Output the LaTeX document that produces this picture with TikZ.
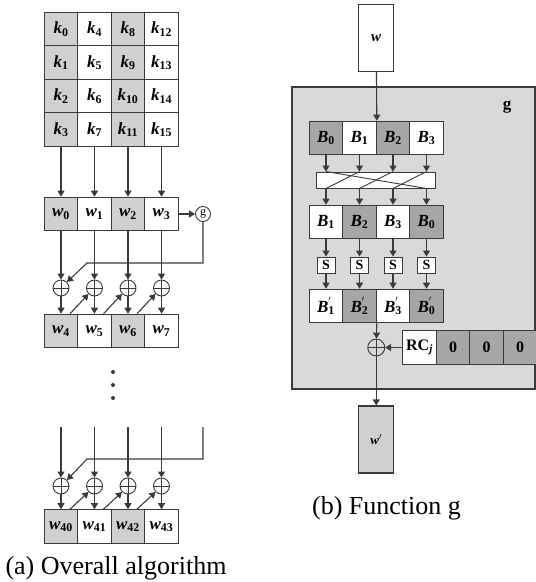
\documentclass[tikz,border=0pt]{standalone}
\usepackage{fontspec}
\setmainfont{Liberation Serif}
\usetikzlibrary{arrows.meta,calc}

\definecolor{lightcell}{HTML}{D0D0D0}
\definecolor{darkcell}{HTML}{A6A6A6}
\definecolor{boxgray}{HTML}{D9D9D9}
\definecolor{linegray}{HTML}{3A3A3A}

\newcommand{\cellv}[2]{{\bfseries\itshape #1}\textsubscript{\bfseries #2}}
\newcommand{\cellpr}[2]{{\bfseries\itshape #1}\rlap{\textsuperscript{\bfseries$'$}}\textsubscript{\bfseries #2}}

\tikzset{
  cell/.style={draw=linegray,line width=1.1pt,minimum width=33.5pt,minimum height=33.5pt,
    inner sep=0pt,fill=white,font=\fontsize{17}{20}\selectfont},
  xorop/.style={circle,draw=linegray,line width=0.9pt,minimum size=16pt,inner sep=0pt,
    path picture={\draw[linegray,line width=0.9pt]
      (path picture bounding box.north) -- (path picture bounding box.south)
      (path picture bounding box.west) -- (path picture bounding box.east);}},
  arr/.style={draw=linegray,line width=1.1pt,-{Triangle[length=6pt,width=7pt]}},
  sbox/.style={draw=linegray,line width=1pt,fill=white,minimum width=18pt,minimum height=16pt,
    inner sep=0pt,font=\fontsize{14}{16}\selectfont\bfseries},
  tallbox/.style={draw=linegray,line width=1.1pt,minimum width=35pt,minimum height=67pt,inner sep=0pt},
  caption/.style={font=\fontsize{26}{30}\selectfont}
}

\begin{document}
\begin{tikzpicture}[x=1pt,y=-1pt]
\useasboundingbox (0,0) rectangle (536,582);

% (a) key matrix
\node[cell,fill=lightcell] (k0) at (61,29) {\cellv{k}{0}};
\node[cell] (k4) at (94.5,29) {\cellv{k}{4}};
\node[cell,fill=lightcell] (k8) at (128,29) {\cellv{k}{8}};
\node[cell] (k12) at (161.5,29) {\cellv{k}{12}};
\node[cell,fill=lightcell] (k1) at (61,62.5) {\cellv{k}{1}};
\node[cell] (k5) at (94.5,62.5) {\cellv{k}{5}};
\node[cell,fill=lightcell] (k9) at (128,62.5) {\cellv{k}{9}};
\node[cell] (k13) at (161.5,62.5) {\cellv{k}{13}};
\node[cell,fill=lightcell] (k2) at (61,96) {\cellv{k}{2}};
\node[cell] (k6) at (94.5,96) {\cellv{k}{6}};
\node[cell,fill=lightcell] (k10) at (128,96) {\cellv{k}{10}};
\node[cell] (k14) at (161.5,96) {\cellv{k}{14}};
\node[cell,fill=lightcell] (k3) at (61,129.5) {\cellv{k}{3}};
\node[cell] (k7) at (94.5,129.5) {\cellv{k}{7}};
\node[cell,fill=lightcell] (k11) at (128,129.5) {\cellv{k}{11}};
\node[cell] (k15) at (161.5,129.5) {\cellv{k}{15}};

% first words
\node[cell,fill=lightcell] (w0) at (61,214) {\cellv{w}{0}};
\node[cell] (w1) at (94.5,214) {\cellv{w}{1}};
\node[cell,fill=lightcell] (w2) at (128,214) {\cellv{w}{2}};
\node[cell] (w3) at (161.5,214) {\cellv{w}{3}};
\node[circle,draw=linegray,line width=0.9pt,minimum size=15pt,inner sep=0pt,
  font=\fontsize{12}{14}\selectfont] (g) at (203,214) {g};

\draw[arr] (k3) -- (w0);
\draw[arr] (k7) -- (w1);
\draw[arr] (k11) -- (w2);
\draw[arr] (k15) -- (w3);
\draw[arr] (w3) -- (g);

\node[xorop] (xa0) at (61,288) {};
\node[xorop] (xa1) at (94.5,288) {};
\node[xorop] (xa2) at (128,288) {};
\node[xorop] (xa3) at (161.5,288) {};

\node[cell,fill=lightcell] (w4) at (61,331) {\cellv{w}{4}};
\node[cell] (w5) at (94.5,331) {\cellv{w}{5}};
\node[cell,fill=lightcell] (w6) at (128,331) {\cellv{w}{6}};
\node[cell] (w7) at (161.5,331) {\cellv{w}{7}};

\coordinate (fa) at (203,263);
\coordinate (fb) at (87,263);
\draw[arr] (g) -- (fa) -- (fb) -- (xa0.north east);
\draw[arr] (w0) -- (xa0);
\draw[arr] (w1) -- (xa1);
\draw[arr] (w2) -- (xa2);
\draw[arr] (w3) -- (xa3);
\draw[arr] (xa0) -- (w4);
\draw[arr] (xa1) -- (w5);
\draw[arr] (xa2) -- (w6);
\draw[arr] (xa3) -- (w7);
\draw[arr] ([xshift=9pt]w4.north) -- (xa1.south west);
\draw[arr] ([xshift=9pt]w5.north) -- (xa2.south west);
\draw[arr] ([xshift=9pt]w6.north) -- (xa3.south west);

% dots
\fill[linegray] (113,372) circle (2pt);
\fill[linegray] (113,385) circle (2pt);
\fill[linegray] (113,398) circle (2pt);

% last round
\coordinate (t0) at (61,427);
\coordinate (t1) at (94.5,427);
\coordinate (t2) at (128,427);
\coordinate (t3) at (161.5,427);
\coordinate (t4) at (203,427);
\coordinate (fc) at (203,459);
\coordinate (fd) at (87,459);

\node[xorop] (xb0) at (61,486) {};
\node[xorop] (xb1) at (94.5,486) {};
\node[xorop] (xb2) at (128,486) {};
\node[xorop] (xb3) at (161.5,486) {};

\node[cell,fill=lightcell] (w40) at (61,526.5) {\cellv{w}{40}};
\node[cell] (w41) at (94.5,526.5) {\cellv{w}{41}};
\node[cell,fill=lightcell] (w42) at (128,526.5) {\cellv{w}{42}};
\node[cell] (w43) at (161.5,526.5) {\cellv{w}{43}};

\draw[arr] (t4) -- (fc) -- (fd) -- (xb0.north east);
\draw[arr] (t0) -- (xb0);
\draw[arr] (t1) -- (xb1);
\draw[arr] (t2) -- (xb2);
\draw[arr] (t3) -- (xb3);
\draw[arr] (xb0) -- (w40);
\draw[arr] (xb1) -- (w41);
\draw[arr] (xb2) -- (w42);
\draw[arr] (xb3) -- (w43);
\draw[arr] ([xshift=9pt]w40.north) -- (xb1.south west);
\draw[arr] ([xshift=9pt]w41.north) -- (xb2.south west);
\draw[arr] ([xshift=9pt]w42.north) -- (xb3.south west);

\node[caption] (capa) at (116,568) {(a) Overall algorithm};

% (b) function g
\node[draw=linegray,line width=1.3pt,fill=boxgray,minimum width=243pt,minimum height=302pt,
  inner sep=0pt] (gbox) at (413.5,238) {};
\node[font=\fontsize{17}{20}\selectfont\bfseries] (glbl) at (507,107) {g};
\node[tallbox,fill=white,font=\fontsize{15}{18}\selectfont] (win) at (376.25,38) {\textbf{\textit{w}}};

\node[cell,fill=darkcell] (b0) at (326,138) {\cellv{B}{0}};
\node[cell] (b1) at (359.5,138) {\cellv{B}{1}};
\node[cell,fill=darkcell] (b2) at (393,138) {\cellv{B}{2}};
\node[cell] (b3) at (426.5,138) {\cellv{B}{3}};
\draw[arr] (win) -- (b1.north east);

\node[draw=linegray,line width=1pt,fill=white,minimum width=119pt,minimum height=16pt,
  inner sep=0pt] (perm) at (376.25,180) {};
\draw[linegray,line width=0.9pt] (b0 |- perm.north) -- (b3 |- perm.south);
\draw[linegray,line width=0.9pt] (b1 |- perm.north) -- (b0 |- perm.south);
\draw[linegray,line width=0.9pt] (b2 |- perm.north) -- (b1 |- perm.south);
\draw[linegray,line width=0.9pt] (b3 |- perm.north) -- (b2 |- perm.south);

\node[cell] (c0) at (326,222) {\cellv{B}{1}};
\node[cell,fill=darkcell] (c1) at (359.5,222) {\cellv{B}{2}};
\node[cell] (c2) at (393,222) {\cellv{B}{3}};
\node[cell,fill=darkcell] (c3) at (426.5,222) {\cellv{B}{0}};

\draw[arr] (b0) -- (b0 |- perm.north);
\draw[arr] (b1) -- (b1 |- perm.north);
\draw[arr] (b2) -- (b2 |- perm.north);
\draw[arr] (b3) -- (b3 |- perm.north);
\draw[arr] (c0 |- perm.south) -- (c0);
\draw[arr] (c1 |- perm.south) -- (c1);
\draw[arr] (c2 |- perm.south) -- (c2);
\draw[arr] (c3 |- perm.south) -- (c3);

\node[sbox] (s0) at (326,265) {S};
\node[sbox] (s1) at (359.5,265) {S};
\node[sbox] (s2) at (393,265) {S};
\node[sbox] (s3) at (426.5,265) {S};

\node[cell] (d0) at (326,306) {\cellpr{B}{1}};
\node[cell,fill=darkcell] (d1) at (359.5,306) {\cellpr{B}{2}};
\node[cell] (d2) at (393,306) {\cellpr{B}{3}};
\node[cell,fill=darkcell] (d3) at (426.5,306) {\cellpr{B}{0}};

\draw[arr] (c0) -- (s0);
\draw[arr] (c1) -- (s1);
\draw[arr] (c2) -- (s2);
\draw[arr] (c3) -- (s3);
\draw[arr] (s0) -- (d0);
\draw[arr] (s1) -- (d1);
\draw[arr] (s2) -- (d2);
\draw[arr] (s3) -- (d3);

\node[xorop,minimum size=17pt] (xg) at (376.25,347.5) {};
\node[cell,font=\fontsize{16}{18}\selectfont\bfseries] (rc0) at (419.5,347.5) {RC\textsubscript{\itshape j}};
\node[cell,fill=darkcell,font=\fontsize{16}{18}\selectfont\bfseries] (rc1) at (453,347.5) {0};
\node[cell,fill=darkcell,font=\fontsize{16}{18}\selectfont\bfseries] (rc2) at (486.5,347.5) {0};
\node[cell,fill=darkcell,font=\fontsize{16}{18}\selectfont\bfseries] (rc3) at (520,347.5) {0};

\draw[arr] (d1.south east) -- (xg);
\draw[arr] (rc0) -- (xg);

\node[tallbox,fill=lightcell,font=\fontsize{13}{15}\selectfont] (wout) at (376.25,439.5) {\textbf{\textit{w}}$'$};
\draw[arr] (xg) -- (wout);

\node[caption] (capb) at (386.5,508) {(b) Function g};
\end{tikzpicture}
\end{document}
